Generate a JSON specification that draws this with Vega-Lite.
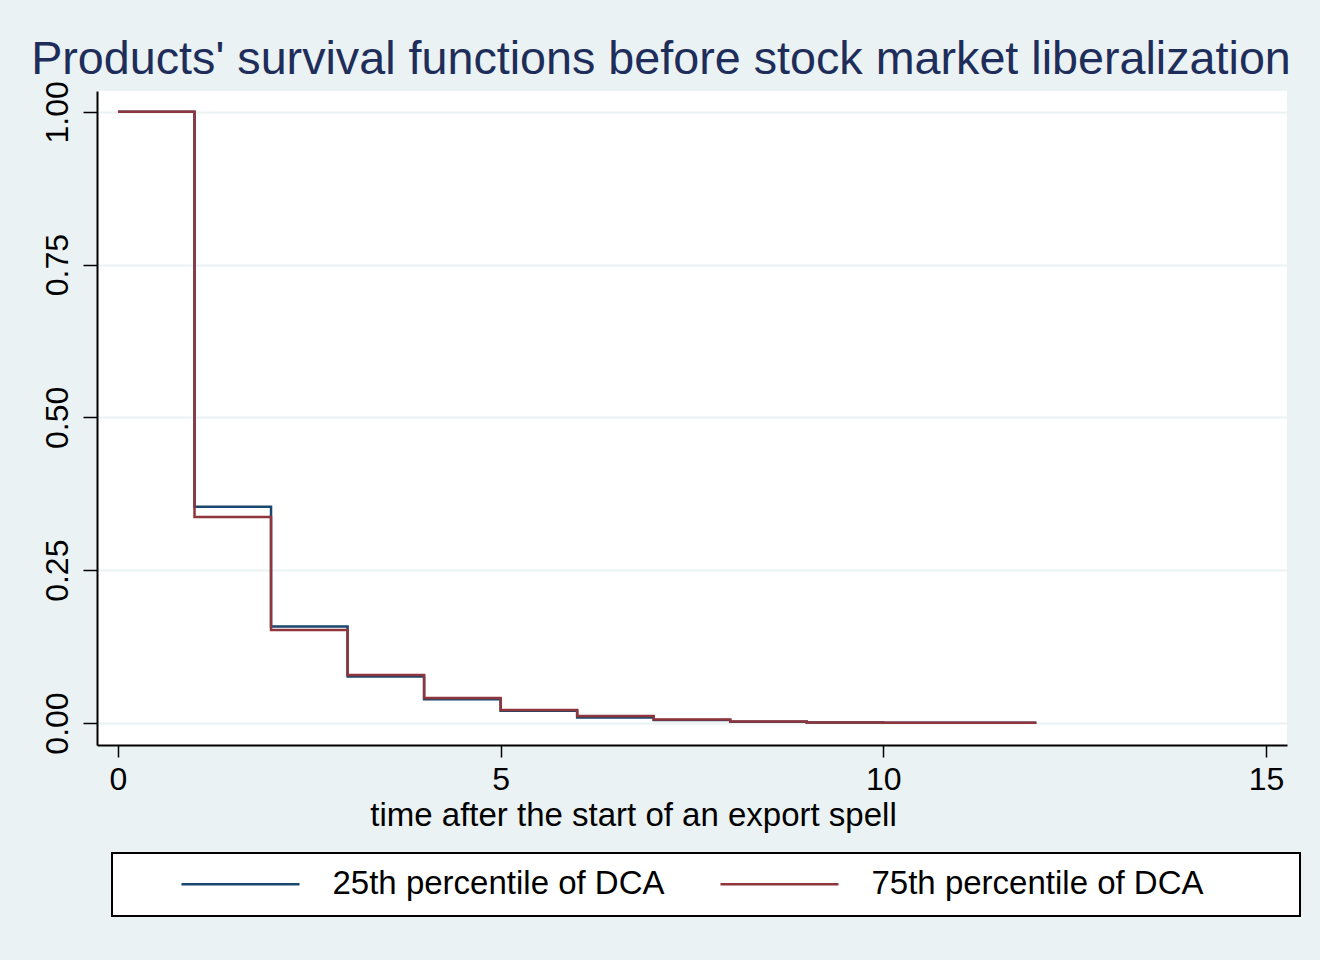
{
  "$schema": "https://vega.github.io/schema/vega-lite/v6.json",
  "width": 1190,
  "height": 654,
  "autosize": {"type": "none"},
  "padding": {"left": 97, "top": 91, "right": 33, "bottom": 215},
  "background": "#EAF2F3",
  "config": {
    "view": {"fill": "white", "stroke": null},
    "font": "Liberation Sans",
    "legend": {"strokeWidth": 2}
  },
  "title": {
    "text": "Products' survival functions before stock market liberalization",
    "fontSize": 46.7,
    "font": "Liberation Sans",
    "fontWeight": "normal",
    "color": "#1e2d5a",
    "anchor": "middle",
    "frame": "group",
    "baseline": "alphabetic",
    "dx": -31,
    "dy": 50,
    "offset": 10
  },
  "data": {
    "values": [
      {"t": 0, "s": 1.0, "g": "25th percentile of DCA"},
      {"t": 1, "s": 0.354, "g": "25th percentile of DCA"},
      {"t": 2, "s": 0.158, "g": "25th percentile of DCA"},
      {"t": 3, "s": 0.076, "g": "25th percentile of DCA"},
      {"t": 4, "s": 0.039, "g": "25th percentile of DCA"},
      {"t": 5, "s": 0.020, "g": "25th percentile of DCA"},
      {"t": 6, "s": 0.009, "g": "25th percentile of DCA"},
      {"t": 7, "s": 0.005, "g": "25th percentile of DCA"},
      {"t": 8, "s": 0.0022, "g": "25th percentile of DCA"},
      {"t": 9, "s": 0.0007, "g": "25th percentile of DCA"},
      {"t": 10, "s": 0.0004, "g": "25th percentile of DCA"},
      {"t": 11, "s": 0.0002, "g": "25th percentile of DCA"},
      {"t": 12, "s": 0.0002, "g": "25th percentile of DCA"},
      {"t": 0, "s": 1.0, "g": "75th percentile of DCA"},
      {"t": 1, "s": 0.337, "g": "75th percentile of DCA"},
      {"t": 2, "s": 0.152, "g": "75th percentile of DCA"},
      {"t": 3, "s": 0.0786, "g": "75th percentile of DCA"},
      {"t": 4, "s": 0.041, "g": "75th percentile of DCA"},
      {"t": 5, "s": 0.0213, "g": "75th percentile of DCA"},
      {"t": 6, "s": 0.0115, "g": "75th percentile of DCA"},
      {"t": 7, "s": 0.0056, "g": "75th percentile of DCA"},
      {"t": 8, "s": 0.0023, "g": "75th percentile of DCA"},
      {"t": 9, "s": 0.0007, "g": "75th percentile of DCA"},
      {"t": 10, "s": 0.0004, "g": "75th percentile of DCA"},
      {"t": 11, "s": 0.0002, "g": "75th percentile of DCA"},
      {"t": 12, "s": 0.0002, "g": "75th percentile of DCA"}
    ]
  },
  "mark": {"type": "line", "interpolate": "step-after", "strokeWidth": 2.5},
  "encoding": {
    "x": {
      "field": "t",
      "type": "quantitative",
      "scale": {"domain": [-0.274, 15.275], "nice": false, "zero": false},
      "axis": {
        "values": [0, 5, 10, 15],
        "title": "time after the start of an export spell",
        "titleFontSize": 33,
        "titleFontWeight": "normal",
        "titleColor": "black",
        "titleFont": "Liberation Sans",
        "titleX": 536,
        "titleY": 80,
        "titleAlign": "center",
        "titleBaseline": "alphabetic",
        "labelFontSize": 32,
        "labelColor": "black",
        "labelBaseline": "alphabetic",
        "labelPadding": 32,
        "labelFlush": false,
        "labelOverlap": false,
        "tickSize": 12,
        "tickColor": "black",
        "tickWidth": 1.5,
        "domainColor": "black",
        "domainWidth": 2,
        "grid": false
      }
    },
    "y": {
      "field": "s",
      "type": "quantitative",
      "scale": {"domain": [-0.036, 1.034], "nice": false, "zero": false},
      "axis": {
        "values": [0, 0.25, 0.5, 0.75, 1],
        "format": ".2f",
        "title": null,
        "labelFontSize": 32,
        "labelColor": "black",
        "labelAngle": 270,
        "labelAlign": "center",
        "labelBaseline": "alphabetic",
        "labelPadding": 16,
        "labelFlush": false,
        "labelOverlap": false,
        "tickSize": 14,
        "tickColor": "black",
        "tickWidth": 1.5,
        "domainColor": "black",
        "domainWidth": 2,
        "grid": true,
        "gridColor": "#EAF2F3",
        "gridWidth": 2
      }
    },
    "color": {
      "field": "g",
      "type": "nominal",
      "scale": {"domain": ["25th percentile of DCA", "75th percentile of DCA"], "range": ["#1a476f", "#90353b"]},
      "legend": {
        "title": null,
        "orient": "none",
        "legendX": 15,
        "legendY": 762,
        "direction": "horizontal",
        "columns": 2,
        "gridAlign": "each",
        "fillColor": "white",
        "strokeColor": "black",
        "cornerRadius": 0,
        "padding": 14.5,
        "clipHeight": 33,
        "symbolType": "stroke",
        "symbolSize": 13924,
        "symbolStrokeWidth": 2.5,
        "symbolOffset": 53.5,
        "labelOffset": 31.5,
        "columnPadding": 0,
        "labelFontSize": 33,
        "labelColor": "black",
        "labelFont": "Liberation Sans",
        "labelLimit": 1000,
        "labelExpr": "datum.label == '75th percentile of DCA' ? datum.label + '\u00a0\u2800\u2800\u2800' : datum.label"
      }
    }
  }
}
